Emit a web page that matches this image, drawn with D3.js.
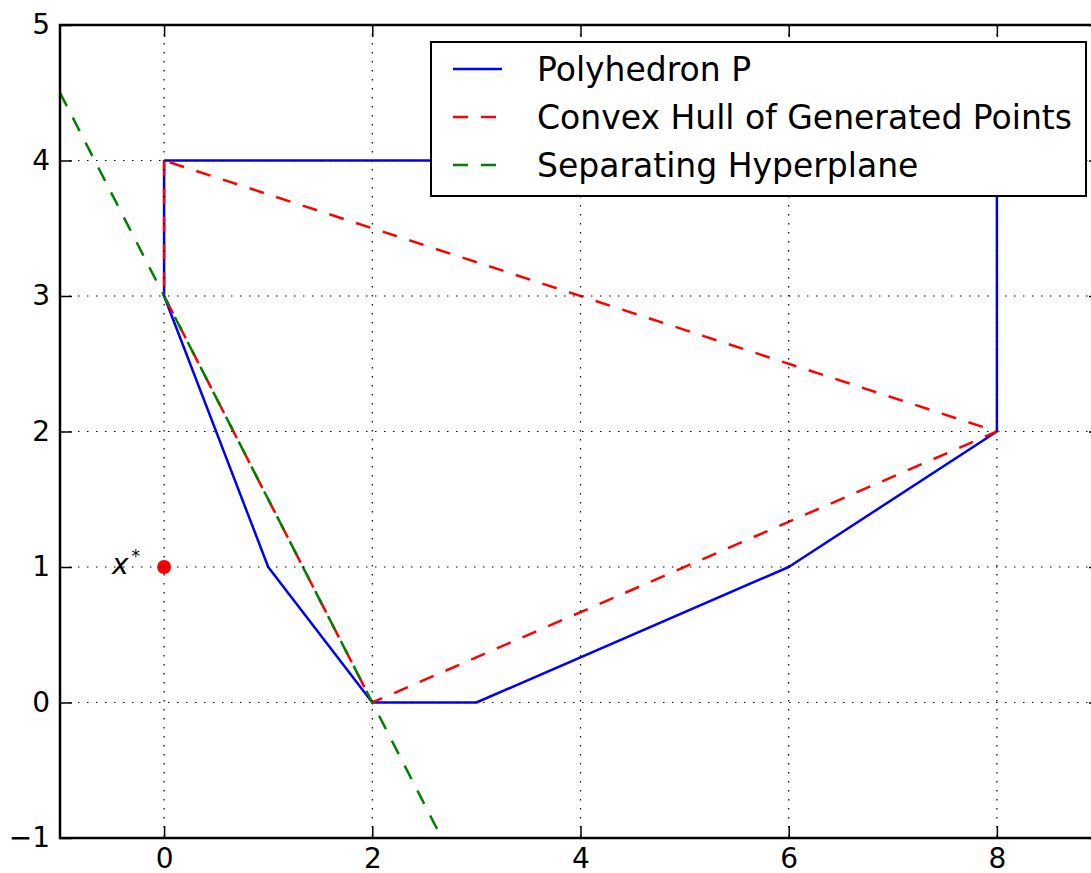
<!DOCTYPE html>
<html>
<head>
<meta charset="utf-8">
<script src="https://cdn.jsdelivr.net/npm/d3@7"></script>
<style>
  html, body { margin: 0; padding: 0; background: #fff; }
  svg { display: block; }
  text { font-family: "DejaVu Sans", sans-serif; }
</style>
</head>
<body>
<script>
// ---- data ----
const polyX = [0, 0, 1, 2, 3, 6, 8, 8, 0];
const polyY = [4, 3, 1, 0, 0, 1, 2, 4, 4];
const hullX = [0, 0, 2, 8, 0];
const hullY = [4, 3, 0, 2, 4];
const hypX = [-1, 3];
const hypY = [4.5, -1.5];
const starX = [0];
const starY = [1];
const xTicks = [0, 2, 4, 6, 8];
const yTicks = [-1, 0, 1, 2, 3, 4, 5];
const seriesNames = ["Polyhedron P", "Convex Hull of Generated Points", "Separating Hyperplane"];
const seriesColors = ["#0000ff", "#ff0000", "#008000"];

(function () {
const W = 1091, H = 873;
const pL = 60, pR = 1101, pT = 25, pB = 838;

const svg = d3.select("body").append("svg").attr("width", W).attr("height", H);
const x = d3.scaleLinear().domain([-1, 9]).range([pL, pR]);
const y = d3.scaleLinear().domain([-1, 5]).range([pB, pT]);

svg.append("defs").append("clipPath").attr("id", "clip")
  .append("rect").attr("x", pL).attr("y", pT).attr("width", pR - pL).attr("height", pB - pT);

const plot = svg.append("g").attr("clip-path", "url(#clip)");
const line = d3.line().x(d => x(d[0])).y(d => y(d[1]));
const zipXY = (xs, ys) => xs.map((v, i) => [v, ys[i]]);

plot.append("path").datum(zipXY(polyX, polyY)).attr("d", line)
  .attr("fill", "none").attr("stroke", seriesColors[0]).attr("stroke-width", 2.5).attr("stroke-linejoin", "round");
plot.append("path").datum(zipXY(hullX, hullY)).attr("d", line)
  .attr("fill", "none").attr("stroke", seriesColors[1]).attr("stroke-width", 2.5)
  .attr("stroke-dasharray", "15,13");
plot.append("path").datum(zipXY(hypX, hypY)).attr("d", line)
  .attr("fill", "none").attr("stroke", seriesColors[2]).attr("stroke-width", 2.5)
  .attr("stroke-dasharray", "15,13");

plot.selectAll("circle.star").data(zipXY(starX, starY)).enter().append("circle")
  .attr("cx", d => x(d[0])).attr("cy", d => y(d[1])).attr("r", 7).attr("fill", "#ff0000");

// grid (drawn above lines, classic style)
const grid = svg.append("g");
xTicks.forEach(t => {
  grid.append("line").attr("x1", x(t)).attr("x2", x(t)).attr("y1", pT).attr("y2", pB)
    .attr("stroke", "#000").attr("stroke-width", 1.2).attr("stroke-dasharray", "1.5,7.5");
});
yTicks.forEach(t => {
  grid.append("line").attr("x1", pL).attr("x2", pR).attr("y1", y(t)).attr("y2", y(t))
    .attr("stroke", "#000").attr("stroke-width", 1.2).attr("stroke-dasharray", "1.5,7.5");
});

// axes with inward ticks
const fs = 28;
const xAxisB = d3.axisBottom(x).tickValues(xTicks).tickSize(-12).tickPadding(10).tickFormat(d3.format("d"));
const xAxisT = d3.axisTop(x).tickValues(xTicks).tickSize(-12).tickFormat("");
const yAxisL = d3.axisLeft(y).tickValues(yTicks).tickSize(-12).tickPadding(10)
  .tickFormat(d => d < 0 ? "\u2212" + Math.abs(d) : String(d));
const yAxisR = d3.axisRight(y).tickValues(yTicks).tickSize(-12).tickFormat("");

function styleAxis(g) {
  g.select(".domain").remove();
  g.selectAll(".tick line").attr("stroke", "#000").attr("stroke-width", 1.5);
  g.selectAll("text").attr("font-family", "DejaVu Sans").attr("font-size", fs).attr("fill", "#000");
}
svg.append("g").attr("transform", `translate(0,${pB})`).call(xAxisB).call(styleAxis);
svg.append("g").attr("transform", `translate(0,${pT})`).call(xAxisT).call(styleAxis);
svg.append("g").attr("transform", `translate(${pL},0)`).call(yAxisL).call(styleAxis);
svg.append("g").attr("transform", `translate(${pR},0)`).call(yAxisR).call(styleAxis);

// spines
svg.append("rect").attr("x", pL).attr("y", pT).attr("width", pR - pL).attr("height", pB - pT)
  .attr("fill", "none").attr("stroke", "#000").attr("stroke-width", 2.5);

// x* label
const lab = svg.append("text").attr("x", 112).attr("y", y(1) + 7).attr("text-anchor", "start")
  .attr("font-family", "Liberation Serif").attr("font-style", "italic").attr("font-size", 28);
lab.append("tspan").text("x");
lab.append("tspan").attr("dx", 3).attr("dy", -12).attr("font-size", 17).attr("font-style", "normal").text("*");

// legend
const lfs = 33;
const lg = svg.append("g").attr("transform", "translate(431,42)");
lg.append("rect").attr("width", 655).attr("height", 154).attr("fill", "#fff")
  .attr("stroke", "#000").attr("stroke-width", 2);
const rowsY = [27, 75, 123];
const dashes = [null, "15,13", "15,13"];
seriesNames.forEach((name, i) => {
  const l = lg.append("line").attr("x1", 22).attr("x2", 71).attr("y1", rowsY[i]).attr("y2", rowsY[i])
    .attr("stroke", seriesColors[i]).attr("stroke-width", 2.5);
  if (dashes[i]) l.attr("stroke-dasharray", dashes[i]);
  lg.append("text").attr("x", 106).attr("y", rowsY[i] + 12).attr("font-size", lfs).attr("fill", "#000").text(name);
});
})();
</script>
</body>
</html>
